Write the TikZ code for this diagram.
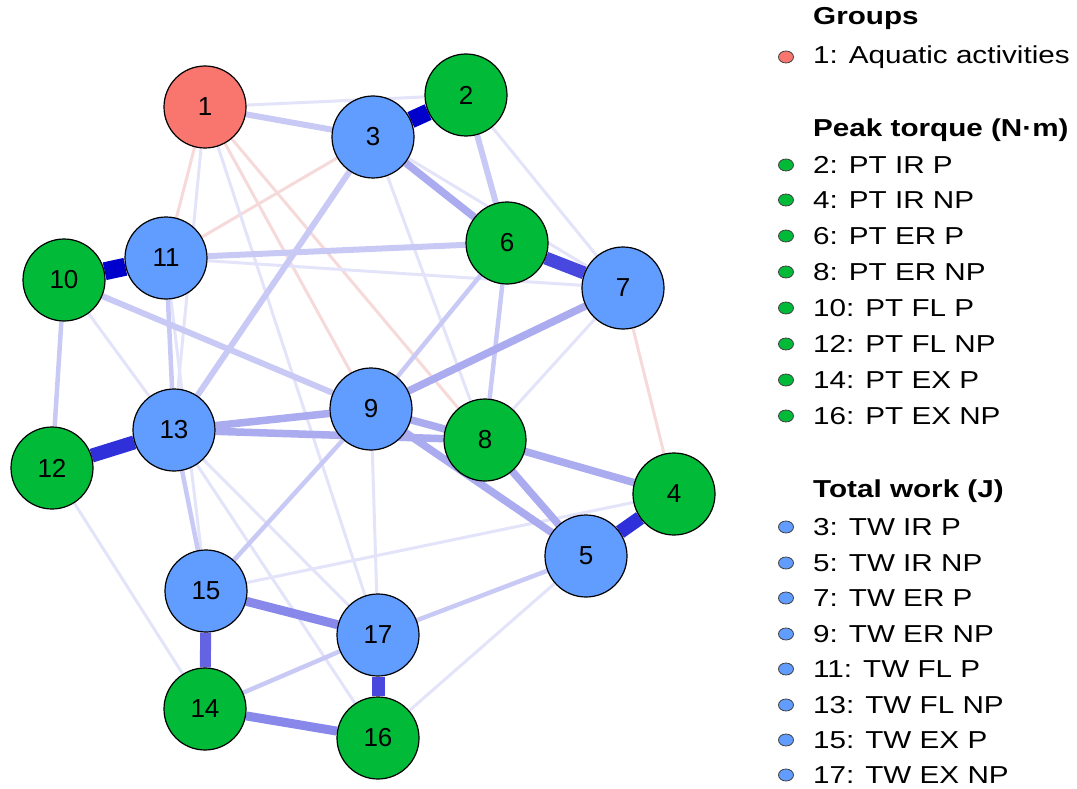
\documentclass[tikz,border=0pt]{standalone}
\usepackage{fontspec}
\setmainfont{Liberation Sans}
\usetikzlibrary{backgrounds}

\definecolor{grpred}{HTML}{F8766D}
\definecolor{ptgreen}{HTML}{00BA38}
\definecolor{twblue}{HTML}{619CFF}
\definecolor{edgeA}{HTML}{0000CC}
\definecolor{edgeB}{HTML}{3030DA}
\definecolor{edgeC}{HTML}{4848DE}
\definecolor{edgeD}{HTML}{6464E2}
\definecolor{edgeE}{HTML}{8888EA}
\definecolor{edgeF}{HTML}{ABABF0}
\definecolor{edgeG}{HTML}{C9C9F5}
\definecolor{edgeH}{HTML}{E3E3FA}
\definecolor{edgeR}{HTML}{F6DADA}

\newcommand{\legs}[1]{\scalebox{1.21}[1]{#1}}

\tikzset{
  var/.style={circle, draw=black, line width=1.2pt, minimum size=82pt,
    inner sep=0pt, font=\fontsize{26}{26}\selectfont},
  grp/.style={var, fill=grpred},
  pt/.style={var, fill=ptgreen},
  tw/.style={var, fill=twblue},
  legtxt/.style={anchor=west, inner sep=0pt, font=\fontsize{24.5}{26}\selectfont},
  leghead/.style={legtxt, font=\fontsize{24.5}{26}\selectfont\bfseries},
  faint/.style={line width=3pt, edgeH},
  negf/.style={line width=3pt, edgeR},
}

\begin{document}
\begin{tikzpicture}[x=1pt, y=-1pt]
    \useasboundingbox (0,0) rectangle (1077,789);

    % variables
    \node [grp] (n1) at (205,107) {1};
    \node [pt] (n2) at (466,95) {2};
    \node [tw] (n3) at (373,137) {3};
    \node [pt] (n4) at (674,494) {4};
    \node [tw] (n5) at (586,556) {5};
    \node [pt] (n6) at (507,243) {6};
    \node [tw] (n7) at (623,288) {7};
    \node [pt] (n8) at (485,440) {8};
    \node [tw] (n9) at (371,409) {9};
    \node [pt] (n10) at (64,280) {10};
    \node [tw] (n11) at (166,258) {11};
    \node [pt] (n12) at (52,468) {12};
    \node [tw] (n13) at (174,430) {13};
    \node [pt] (n14) at (205,709) {14};
    \node [tw] (n15) at (206,591) {15};
    \node [pt] (n16) at (378,738) {16};
    \node [tw] (n17) at (378,635) {17};

    \begin{scope}[on background layer]
    % negative partial correlations
    \draw [negf] (n1) -- (n11);
    \draw [negf] (n3) -- (n11);
    \draw [negf] (n1) -- (n8);
    \draw [negf] (n1) -- (n9);
    \draw [negf] (n7) -- (n4);

    % weak positive ones
    \draw [faint] (n1) -- (n2);
    \draw [faint] (n1) -- (n13);
    \draw [faint] (n1) -- (n17);
    \draw [faint] (n11) -- (n7);
    \draw [faint] (n12) -- (n14);
    \draw [faint] (n13) -- (n17);
    \draw [faint] (n15) -- (n4);
    \draw [faint] (n16) -- (n5);
    \draw [faint] (n2) -- (n7);
    \draw [faint] (n3) -- (n7);
    \draw [faint] (n3) -- (n8);
    \draw [faint] (n11) -- (n15);
    \draw [faint] (n9) -- (n17);
    \draw [faint] (n7) -- (n8);
    \draw [faint] (n13) -- (n16);
    \draw [faint] (n10) -- (n13);

    \draw [line width=4.5pt, edgeG] (n10) -- (n12);
    \draw [line width=4.5pt, edgeG] (n11) -- (n13);
    \draw [line width=4.5pt, edgeG] (n13) -- (n15);
    \draw [line width=4.5pt, edgeG] (n5) -- (n17);
    \draw [line width=4.5pt, edgeG] (n14) -- (n17);
    \draw [line width=4.5pt, edgeG] (n6) -- (n8);
    \draw [line width=4.5pt, edgeG] (n15) -- (n9);
    \draw [line width=4.5pt, edgeG] (n6) -- (n9);

    \draw [line width=6pt, edgeG] (n2) -- (n6);
    \draw [line width=6pt, edgeG] (n1) -- (n3);
    \draw [line width=6pt, edgeG] (n11) -- (n6);
    \draw [line width=6pt, edgeG] (n10) -- (n9);
    \draw [line width=6pt, edgeG] (n3) -- (n13);

    \draw [line width=7.5pt, edgeF] (n9) -- (n7);
    \draw [line width=7.5pt, edgeF] (n9) -- (n5);
    \draw [line width=7.5pt, edgeF] (n9) -- (n8);
    \draw [line width=7.5pt, edgeF] (n8) -- (n5);
    \draw [line width=7.5pt, edgeF] (n8) -- (n4);
    \draw [line width=7.5pt, edgeF] (n13) -- (n9);
    \draw [line width=7.5pt, edgeF] (n13) -- (n8);
    \draw [line width=7.5pt, edgeF] (n3) -- (n6);

    % strong ones
    \draw [line width=9pt, edgeE] (n15) -- (n17);
    \draw [line width=9pt, edgeE] (n14) -- (n16);
    \draw [line width=11pt, edgeD] (n15) -- (n14);
    \draw [line width=13pt, edgeC] (n6) -- (n7);
    \draw [line width=13pt, edgeC] (n17) -- (n16);
    \draw [line width=14pt, edgeB] (n4) -- (n5);
    \draw [line width=14pt, edgeB] (n12) -- (n13);
    \draw [line width=17pt, edgeA] (n2) -- (n3);
    \draw [line width=18pt, edgeA] (n10) -- (n11);
    \end{scope}

    % legend
    \node [leghead] (hgrp) at (813,18) {\legs{Groups}};
    \node [legtxt] (l1) at (813,57) {\legs{1: Aquatic activities}};
    \draw [fill=grpred, draw=black!75, line width=0.8pt] (786,57) ellipse (7.5 and 6);

    \node [leghead] (hpt) at (813,130) {\legs{Peak torque (N·m)}};
    \node [legtxt] (l2) at (813,165) {\legs{2: PT IR P}};
    \node [legtxt] (l4) at (813,200) {\legs{4: PT IR NP}};
    \node [legtxt] (l6) at (813,236) {\legs{6: PT ER P}};
    \node [legtxt] (l8) at (813,272) {\legs{8: PT ER NP}};
    \node [legtxt] (l10) at (813,308) {\legs{10: PT FL P}};
    \node [legtxt] (l12) at (813,344) {\legs{12: PT FL NP}};
    \node [legtxt] (l14) at (813,380) {\legs{14: PT EX P}};
    \node [legtxt] (l16) at (813,416) {\legs{16: PT EX NP}};
    \draw [fill=ptgreen, draw=black!75, line width=0.8pt] (786,165) ellipse (7.5 and 6);
    \draw [fill=ptgreen, draw=black!75, line width=0.8pt] (786,200) ellipse (7.5 and 6);
    \draw [fill=ptgreen, draw=black!75, line width=0.8pt] (786,236) ellipse (7.5 and 6);
    \draw [fill=ptgreen, draw=black!75, line width=0.8pt] (786,272) ellipse (7.5 and 6);
    \draw [fill=ptgreen, draw=black!75, line width=0.8pt] (786,308) ellipse (7.5 and 6);
    \draw [fill=ptgreen, draw=black!75, line width=0.8pt] (786,344) ellipse (7.5 and 6);
    \draw [fill=ptgreen, draw=black!75, line width=0.8pt] (786,380) ellipse (7.5 and 6);
    \draw [fill=ptgreen, draw=black!75, line width=0.8pt] (786,416) ellipse (7.5 and 6);

    \node [leghead] (htw) at (813,491) {\legs{Total work (J)}};
    \node [legtxt] (l3) at (813,527) {\legs{3: TW IR P}};
    \node [legtxt] (l5) at (813,563) {\legs{5: TW IR NP}};
    \node [legtxt] (l7) at (813,598) {\legs{7: TW ER P}};
    \node [legtxt] (l9) at (813,634) {\legs{9: TW ER NP}};
    \node [legtxt] (l11) at (813,669) {\legs{11: TW FL P}};
    \node [legtxt] (l13) at (813,705) {\legs{13: TW FL NP}};
    \node [legtxt] (l15) at (813,740) {\legs{15: TW EX P}};
    \node [legtxt] (l17) at (813,775) {\legs{17: TW EX NP}};
    \draw [fill=twblue, draw=black!75, line width=0.8pt] (786,527) ellipse (7.5 and 6);
    \draw [fill=twblue, draw=black!75, line width=0.8pt] (786,563) ellipse (7.5 and 6);
    \draw [fill=twblue, draw=black!75, line width=0.8pt] (786,598) ellipse (7.5 and 6);
    \draw [fill=twblue, draw=black!75, line width=0.8pt] (786,634) ellipse (7.5 and 6);
    \draw [fill=twblue, draw=black!75, line width=0.8pt] (786,669) ellipse (7.5 and 6);
    \draw [fill=twblue, draw=black!75, line width=0.8pt] (786,705) ellipse (7.5 and 6);
    \draw [fill=twblue, draw=black!75, line width=0.8pt] (786,740) ellipse (7.5 and 6);
    \draw [fill=twblue, draw=black!75, line width=0.8pt] (786,775) ellipse (7.5 and 6);
\end{tikzpicture}
\end{document}
